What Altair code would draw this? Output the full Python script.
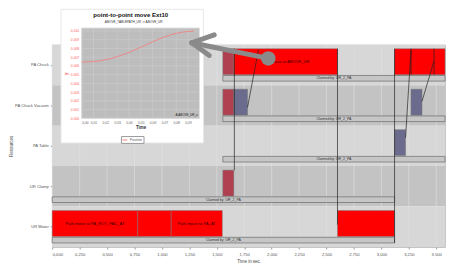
import altair as alt
import pandas as pd

# ---------------- data ----------------
rows = ["PA Chuck", "PA Chuck Vacuum", "PA Table", "UR Clamp", "UR Motor"]

task_row = ["UR Motor", "UR Motor", "UR Motor", "UR Motor", "UR Clamp",
            "PA Chuck", "PA Chuck", "PA Chuck",
            "PA Chuck Vacuum", "PA Chuck Vacuum", "PA Chuck Vacuum", "PA Table"]
task_start = [0.0, 0.78, 1.084, 2.60, 1.555, 1.555, 1.655, 3.12, 1.555, 1.655, 3.27, 3.12]
task_end = [0.78, 1.084, 1.55, 3.12, 1.655, 1.655, 2.60, 3.58, 1.655, 1.78, 3.37, 3.22]
task_kind = ["move", "move", "move", "move", "clamp", "clamp", "move", "move",
             "clamp", "vacuum", "vacuum", "vacuum"]
task_label = ["Path move to PA_ROT_FAC_AT", "", "Path move to PA_AT", "", "",
              "", "Path move to ABOVE_UR", "", "", "", "", ""]

claim_row = ["PA Chuck", "PA Chuck Vacuum", "PA Table", "UR Clamp", "UR Motor"]
claim_start = [1.555, 1.555, 1.555, 0.0, 0.0]
claim_end = [3.58, 3.58, 3.58, 3.12, 3.12]
claim_label = ["Claimed by: UR_2_PA"] * 5

link_t1 = [1.66, 1.78, 2.60, 3.12, 3.22, 3.27, 3.37, 3.48]
link_r1 = [0.10, 1.55, 0.10, 0.10, 2.30, 0.10, 1.40, 0.10]
link_t2 = [1.66, 1.88, 2.60, 3.12, 3.27, 3.27, 3.48, 3.48]
link_r2 = [3.10, 0.12, 4.45, 4.90, 0.12, 0.74, 0.40, 0.74]

x_ticks = [0.0, 0.25, 0.5, 0.75, 1.0, 1.25, 1.5, 1.75, 2.0, 2.25, 2.5, 2.75, 3.0, 3.25, 3.5]
X_MAX = 3.58

# inset: point-to-point move
curve_t = [0.0, 0.005, 0.01, 0.015, 0.02, 0.025, 0.03, 0.035, 0.04, 0.045,
           0.05, 0.055, 0.06, 0.065, 0.07, 0.075, 0.08, 0.085, 0.09, 0.095]
curve_pos = [0.00645, 0.00646, 0.00650, 0.00658, 0.00670, 0.00686, 0.00706, 0.00730,
             0.00755, 0.00784, 0.00814, 0.00845, 0.00876, 0.00905, 0.00932, 0.00955,
             0.00973, 0.00987, 0.00995, 0.00998]
inset_xt = [0.0, 0.01, 0.02, 0.03, 0.04, 0.05, 0.06, 0.07, 0.08, 0.09]
inset_yt = [0.0, 0.001, 0.002, 0.003, 0.004, 0.005, 0.006, 0.007, 0.008, 0.009, 0.010]
inset_title = "point-to-point move Ext10"
inset_subtitle = "ABOVE_TABLEPATH_UR -> ABOVE_UR"
inset_note = "A:ABOVE_UR_a"

# ---------------- layout ----------------
W, H = 400, 206
FONT = "Liberation Sans"
ri = {r: i for i, r in enumerate(rows)}

bands = pd.DataFrame({"row": rows, "ri": list(range(len(rows)))})
bands["ri1"] = bands["ri"] + 1
bands["shade"] = bands["ri"] % 2

tasks = pd.DataFrame({"row": task_row, "start": task_start, "end": task_end,
                      "kind": task_kind, "label": task_label})
tasks["ri"] = tasks["row"].map(ri)
tasks["y0"] = tasks["ri"] + 0.10
tasks["y1"] = tasks["ri"] + 0.74
tasks["ym"] = tasks["ri"] + 0.42
tasks["mid"] = (tasks["start"] + tasks["end"]) / 2

claims = pd.DataFrame({"row": claim_row, "start": claim_start, "end": claim_end,
                       "label": claim_label})
claims["ri"] = claims["row"].map(ri)
claims["y0"] = claims["ri"] + 0.76
claims["y1"] = claims["ri"] + 0.90
claims["ym"] = claims["ri"] + 0.83
claims["mid"] = (claims["start"] + claims["end"]) / 2

links = pd.DataFrame({"t1": link_t1, "r1": link_r1, "t2": link_t2, "r2": link_r2})
ticks_df = pd.DataFrame({"tick": x_ticks})

xs = alt.Scale(domain=[0, X_MAX], nice=False, zero=False)
ys = alt.Scale(domain=[0, len(rows)], reverse=True, nice=False, zero=False)

row_expr = "[" + ",".join("'%s'" % r for r in rows) + "][floor(datum.value)]"

ax_x = alt.Axis(values=x_ticks, labelExpr="replace(format(datum.value, '.3f'), '.', ',')",
                title="Time in sec.", grid=False, domain=False, tickSize=2,
                tickColor="#999", labelFontSize=4.2, labelColor="#555",
                labelFont=FONT, titleFont=FONT, titleFontSize=4.5,
                titleFontWeight="normal", titleColor="#444", labelPadding=4,
                titlePadding=2)
ax_y = alt.Axis(values=[i + 0.5 for i in range(len(rows))], labelExpr=row_expr,
                title="Resources", grid=False, domain=False, tickSize=2,
                tickColor="#999", labelFontSize=4.2, labelColor="#555",
                labelFont=FONT, titleFont=FONT, titleFontSize=4.5,
                titleFontWeight="normal", titleColor="#444", labelPadding=2,
                titlePadding=1)

band_layer = alt.Chart(bands).mark_rect().encode(
    x=alt.value(0), x2=alt.value(W),
    y=alt.Y("ri:Q", scale=ys, axis=ax_y),
    y2="ri1:Q",
    color=alt.Color("shade:N", scale=alt.Scale(domain=[0, 1], range=["#d7d7d7", "#c3c3c3"]),
                    legend=None),
)

grid_layer = alt.Chart(ticks_df).mark_rule(color="#e2e2e2", strokeWidth=0.6).encode(
    x=alt.X("tick:Q", scale=xs, axis=ax_x),
    y=alt.value(0), y2=alt.value(H),
)

claim_layer = alt.Chart(claims).mark_rect(fill="#c6c6c6", stroke="#6a6a6a", strokeWidth=0.7).encode(
    x=alt.X("start:Q", scale=xs, axis=ax_x), x2="end:Q",
    y=alt.Y("y0:Q", scale=ys, axis=ax_y), y2="y1:Q",
)
claim_text = alt.Chart(claims).mark_text(fontSize=3.6, color="#333", font=FONT).encode(
    x=alt.X("mid:Q", scale=xs, axis=ax_x),
    y=alt.Y("ym:Q", scale=ys, axis=ax_y),
    text="label:N",
)

task_layer = alt.Chart(tasks).mark_rect(stroke="#777", strokeWidth=0.5).encode(
    x=alt.X("start:Q", scale=xs, axis=ax_x), x2="end:Q",
    y=alt.Y("y0:Q", scale=ys, axis=ax_y), y2="y1:Q",
    fill=alt.Fill("kind:N", scale=alt.Scale(domain=["move", "clamp", "vacuum"],
                                            range=["#ff0000", "#b0404f", "#6b6b8e"]),
                  legend=None),
)
task_text = alt.Chart(tasks).mark_text(fontSize=4.2, color="#3a0000", font=FONT).encode(
    x=alt.X("mid:Q", scale=xs, axis=ax_x),
    y=alt.Y("ym:Q", scale=ys, axis=ax_y),
    text="label:N",
)

link_layer = alt.Chart(links).mark_rule(color="#222", strokeWidth=0.7).encode(
    x=alt.X("t1:Q", scale=xs, axis=ax_x), x2="t2:Q",
    y=alt.Y("r1:Q", scale=ys, axis=ax_y), y2="r2:Q",
)

main = alt.layer(band_layer, grid_layer, claim_layer, claim_text, task_layer, task_text, link_layer)

# ---------------- inset ----------------
one = pd.DataFrame({"a": [0]})
ixs = alt.Scale(domain=[0, 0.0997], range=[30, 150], nice=False, zero=False)
iys = alt.Scale(domain=[0, 0.01034], range=[75, -17], nice=False, zero=False)

iax_x = alt.Axis(orient="bottom", offset=-131, values=inset_xt,
                 labelExpr="replace(format(datum.value, '.2f'), '.', ',')",
                 title="Time", grid=False, domain=False, ticks=False,
                 labelFontSize=3.4, labelColor="#666", labelFont=FONT,
                 titleFont=FONT, titleFontSize=4.5, titleColor="#333",
                 titleFontWeight="bold", labelPadding=2, titlePadding=1, zindex=1)
iax_y = alt.Axis(orient="left", offset=-30, values=inset_yt,
                 labelExpr="replace(format(datum.value, '.3f'), '.', ',')",
                 title="y", grid=False, domain=False, ticks=False,
                 labelFontSize=3.4, labelColor="#ff5a5a", labelFont=FONT,
                 titleFont=FONT, titleFontSize=4.5, titleColor="#ff5a5a",
                 titleFontWeight="bold", labelPadding=3, titlePadding=2, zindex=1)

inset_box = alt.Chart(one).mark_rect(fill="white", stroke="#e8e8e8").encode(
    x=alt.value(9), x2=alt.value(154), y=alt.value(-36), y2=alt.value(100))
inset_bg = alt.Chart(one).mark_rect(fill="#bdbdbd", stroke="#e0e0e0", strokeWidth=1).encode(
    x=alt.value(30), x2=alt.value(150), y=alt.value(-17), y2=alt.value(75))
inset_vgrid = alt.Chart(pd.DataFrame({"v": inset_xt})).mark_rule(color="#cfcfcf", strokeWidth=0.5).encode(
    x=alt.X("v:Q", scale=ixs, axis=iax_x), y=alt.value(-17), y2=alt.value(75))
inset_hgrid = alt.Chart(pd.DataFrame({"w": inset_yt})).mark_rule(color="#cfcfcf", strokeWidth=0.5).encode(
    y=alt.Y("w:Q", scale=iys, axis=iax_y), x=alt.value(30), x2=alt.value(150))

curve_df = pd.DataFrame({"t": curve_t, "pos": curve_pos, "series": ["Position"] * len(curve_t)})
inset_line = alt.Chart(curve_df).mark_line(strokeWidth=0.9).encode(
    x=alt.X("t:Q", scale=ixs, axis=iax_x),
    y=alt.Y("pos:Q", scale=iys, axis=iax_y),
    color=alt.Color("series:N", scale=alt.Scale(range=["#f08080"]),
                    legend=alt.Legend(orient="none", legendX=70, legendY=93, title=None,
                                      symbolType="stroke", fillColor="white",
                                      strokeColor="#999", padding=1, labelFontSize=3.5,
                                      labelFont=FONT, labelColor="#555", symbolSize=25,
                                      symbolStrokeWidth=1, labelOffset=2)),
)
inset_t1 = alt.Chart(one).mark_text(text=inset_title, fontSize=6.2, fontWeight="bold",
                                    font=FONT, color="#111").encode(
    x=alt.value(80), y=alt.value(-30))
inset_t2 = alt.Chart(one).mark_text(text=inset_subtitle, fontSize=3.2, font=FONT,
                                    color="#333").encode(
    x=alt.value(83), y=alt.value(-23))
inset_t3 = alt.Chart(one).mark_text(text=inset_note, fontSize=3, font=FONT, color="#222",
                                    align="right").encode(
    x=alt.value(148), y=alt.value(72))

inset = alt.layer(inset_box, inset_bg, inset_vgrid, inset_hgrid, inset_line,
                  inset_t1, inset_t2, inset_t3)

# ---------------- callout arrow ----------------
ARROW = "#8a8a8a"
shaft = alt.Chart(one).mark_rule(color=ARROW, strokeWidth=5, strokeCap="round").encode(
    x=alt.value(142), y=alt.value(-2), x2=alt.value(220), y2=alt.value(14))
arm1 = alt.Chart(one).mark_rule(color=ARROW, strokeWidth=5, strokeCap="round").encode(
    x=alt.value(142), y=alt.value(-2), x2=alt.value(165), y2=alt.value(-10))
arm2 = alt.Chart(one).mark_rule(color=ARROW, strokeWidth=5, strokeCap="round").encode(
    x=alt.value(142), y=alt.value(-2), x2=alt.value(160), y2=alt.value(11))
dot = alt.Chart(one).mark_circle(color=ARROW, size=220, opacity=1).encode(
    x=alt.value(220), y=alt.value(14))
arrow = alt.layer(shaft, arm1, arm2, dot)

chart = alt.layer(main, inset, arrow).resolve_scale(
    x="independent", y="independent", color="independent", fill="independent"
).properties(
    width=W, height=H,
    padding={"left": 45, "top": 35, "right": 2, "bottom": 20},
    autosize=alt.AutoSizeParams(type="none"),
).configure_view(stroke="#c4c4c4", strokeWidth=1)

chart.save("out.html", embed_options={"renderer": "svg", "actions": False})
